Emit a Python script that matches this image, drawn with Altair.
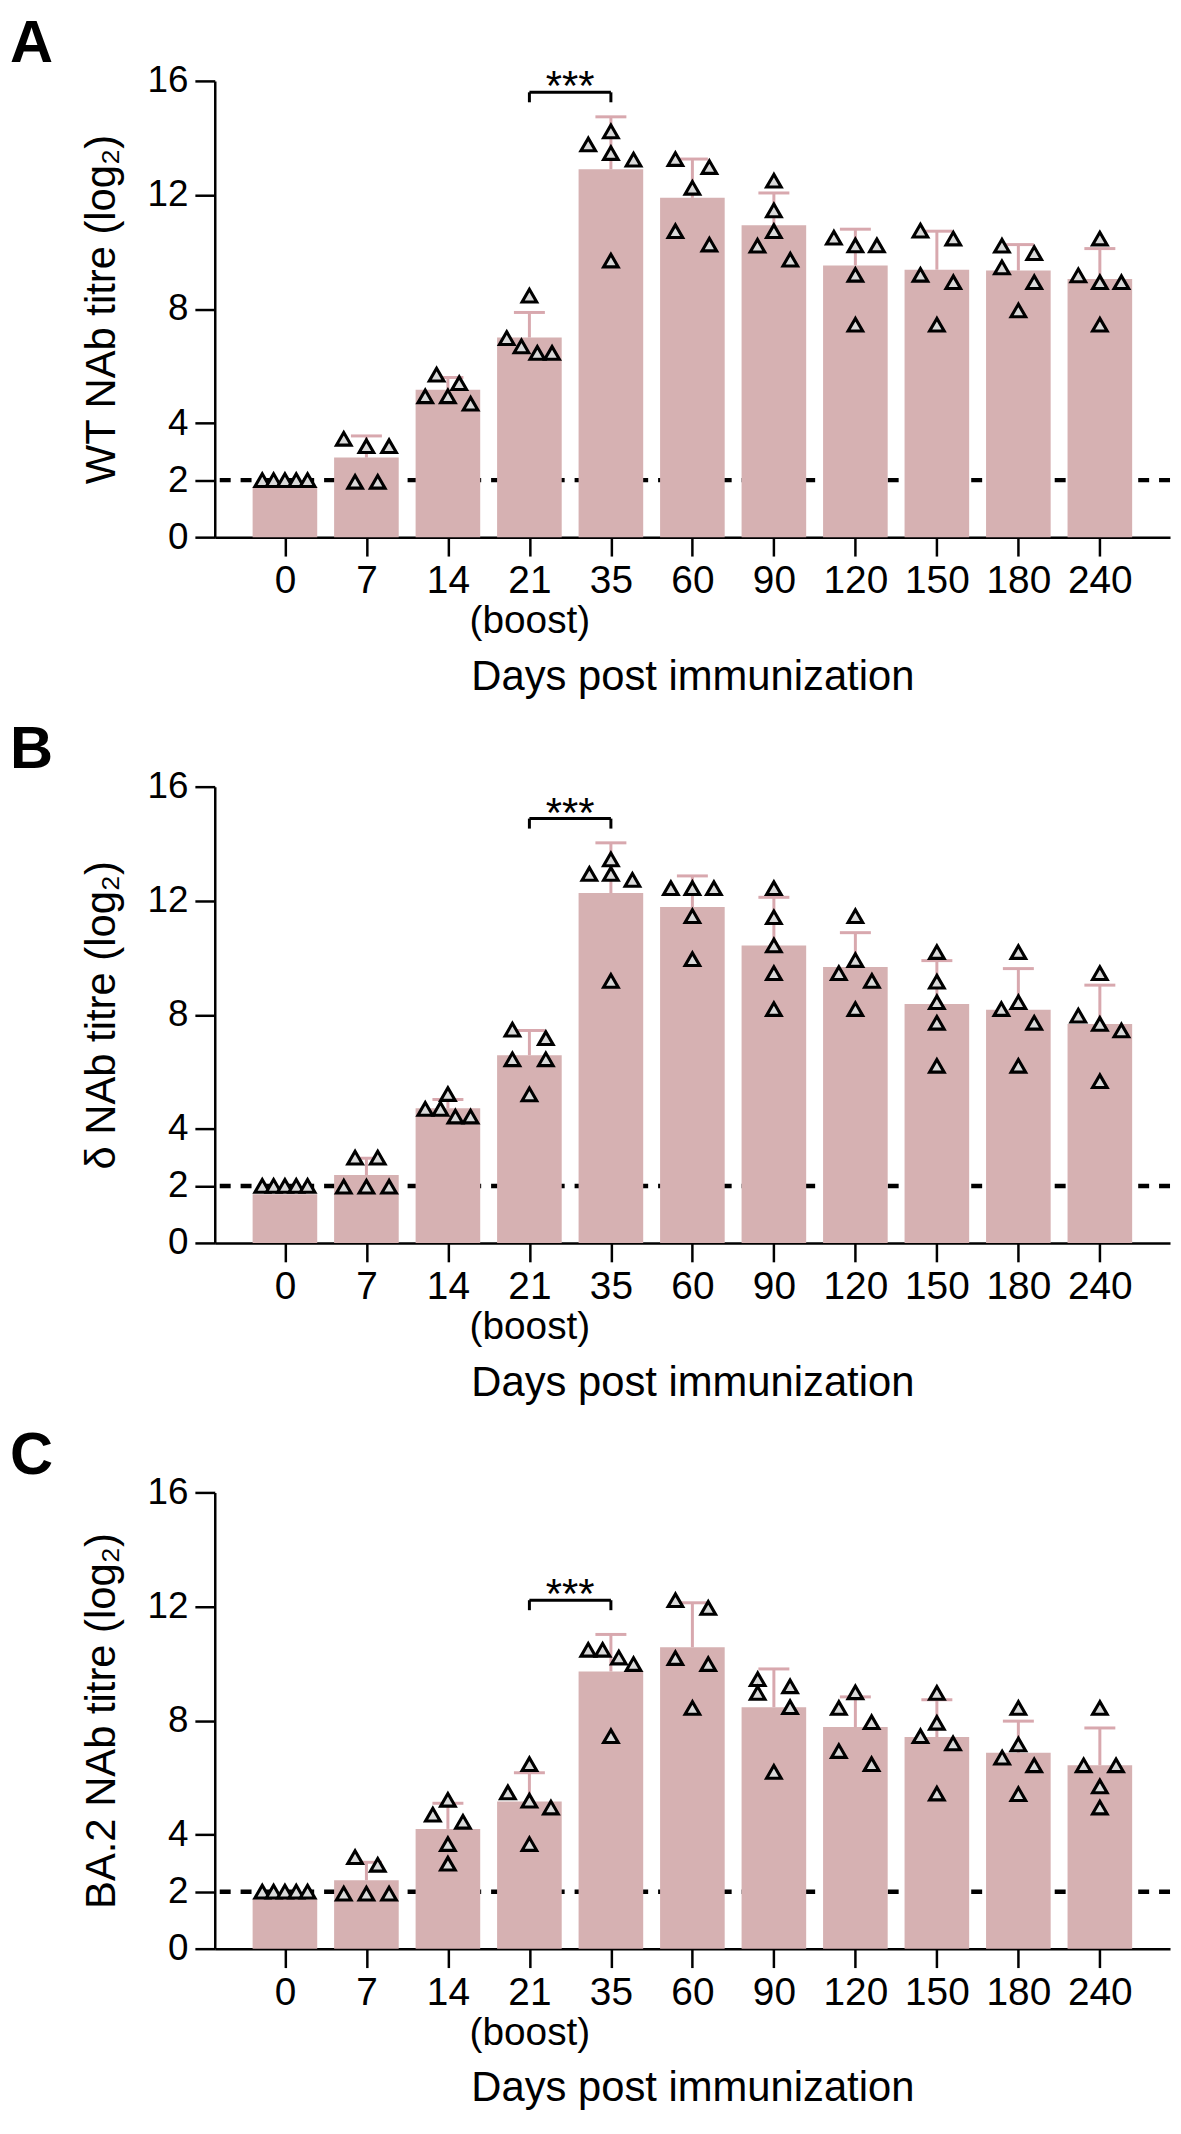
import altair as alt
import pandas as pd

# ---------------- data ----------------
days = ["0", "7", "14", "21", "35", "60", "90", "120", "150", "180", "240"]
boost_day = "21"
y_ticks = [0, 2, 4, 8, 12, 16]
letters = ["A", "B", "C"]
y_titles = ["WT NAb titre (log\u2082)", "\u03b4 NAb titre (log\u2082)", "BA.2 NAb titre (log\u2082)"]
limit_line = 2
sig_text = "***"
sig_pair = ["21", "35"]

# panel A (WT)
bars_A = [1.77, 2.79, 5.17, 7.0, 12.9, 11.9, 10.94, 9.53, 9.38, 9.35, 9.05]
caps_A = [1.77, 3.55, 5.6, 7.88, 14.74, 13.26, 12.07, 10.8, 10.73, 10.26, 10.12]
pts_A = [
    [2, 2, 2, 2, 2],
    [3.45, 3.19, 3.19, 1.94, 1.94],
    [5.7, 5.4, 4.94, 4.94, 4.68],
    [8.47, 6.98, 6.69, 6.46, 6.46],
    [14.23, 13.77, 13.47, 13.24, 9.7],
    [13.26, 12.98, 12.25, 10.73, 10.26],
    [12.5, 11.46, 10.73, 10.22, 9.73],
    [10.5, 10.23, 10.23, 9.2, 7.45],
    [10.75, 10.47, 9.2, 8.94, 7.45],
    [10.22, 9.96, 9.46, 8.94, 7.95],
    [10.47, 9.18, 8.94, 8.94, 7.45],
]
jit_A = [
    [-2, -1, 0, 1, 2],
    [-2, 0, 2, -1, 1],
    [-1, 1, -2, 0, 2],
    [0, -2, -0.7, 0.7, 2],
    [0, -2, 0, 2, 0],
    [-1.5, 1.5, 0, -1.5, 1.5],
    [0, 0, 0, -1.45, 1.45],
    [-1.9, 0, 1.9, 0, 0],
    [-1.45, 1.45, -1.45, 1.45, 0],
    [-1.45, 1.4, -1.45, 1.4, 0],
    [0, -1.9, 0, 1.9, 0],
]
bracket_A = 15.6

# panel B (delta)
bars_B = [1.71, 2.38, 4.72, 6.58, 12.27, 11.78, 10.43, 9.68, 8.38, 8.18, 7.68]
caps_B = [1.71, 2.97, 5.03, 7.45, 14.03, 12.87, 12.12, 10.88, 9.9, 9.62, 9.04]
pts_B = [
    [2, 2, 2, 2, 2],
    [2.99, 2.99, 1.97, 1.97, 1.97],
    [5.22, 4.70, 4.70, 4.43, 4.43],
    [7.48, 7.18, 6.44, 6.44, 5.21],
    [13.45, 12.94, 12.94, 12.73, 9.19],
    [12.44, 12.44, 12.44, 11.46, 9.95],
    [12.44, 11.42, 10.43, 9.46, 8.2],
    [11.46, 9.92, 9.46, 9.19, 8.2],
    [10.2, 9.16, 8.44, 7.72, 6.21],
    [10.2, 8.44, 8.2, 7.72, 6.21],
    [9.46, 7.97, 7.68, 7.45, 5.67],
]
jit_B = [
    [-2, -1, 0, 1, 2],
    [-1, 1, -2, 0, 2],
    [0, -2, -0.66, 0.66, 2],
    [-1.5, 1.45, -1.5, 1.45, 0],
    [0, -1.9, 0, 1.9, 0],
    [-1.9, 0, 1.9, 0, 0],
    [0, 0, 0, 0, 0],
    [0, 0, -1.46, 1.46, 0],
    [0, 0, 0, 0, 0],
    [0, 0, -1.5, 1.4, 0],
    [0, -1.9, 0, 1.9, 0],
]
bracket_B = 14.88

# panel C (BA.2)
bars_C = [1.76, 2.4, 4.2, 5.16, 9.72, 10.57, 8.47, 7.77, 7.42, 6.87, 6.43]
caps_C = [1.76, 3.03, 5.1, 6.17, 11.02, 12.13, 9.81, 8.83, 8.73, 7.98, 7.74]
pts_C = [
    [2, 2, 2, 2, 2],
    [3.21, 2.94, 1.93, 1.93, 1.93],
    [5.22, 4.7, 4.45, 3.67, 2.98],
    [6.47, 5.48, 5.19, 4.95, 3.67],
    [10.48, 10.48, 10.21, 9.98, 7.45],
    [12.22, 11.95, 10.19, 9.98, 8.44],
    [9.45, 9.2, 8.97, 8.47, 6.2],
    [8.99, 8.44, 7.94, 6.93, 6.47],
    [8.97, 7.92, 7.45, 7.2, 5.44],
    [8.44, 7.16, 6.7, 6.43, 5.42],
    [8.44, 6.43, 6.43, 5.69, 4.95],
]
jit_C = [
    [-2, -1, 0, 1, 2],
    [-1, 1, -2, 0, 2],
    [0, -1.33, 1.33, 0, 0],
    [0, -1.9, 0, 1.9, 0],
    [-2, -0.73, 0.7, 2, 0],
    [-1.5, 1.4, -1.5, 1.4, 0],
    [-1.43, 1.43, -1.43, 1.43, 0],
    [0, -1.46, 1.43, -1.46, 1.43],
    [0, 0, -1.45, 1.43, 0],
    [0, 0, -1.43, 1.4, 0],
    [0, -1.43, 1.43, 0, 0],
]
bracket_C = 12.22

# ---------------- styling ----------------
FONT = "Liberation Sans"
BAR = "#D6B1B2"
ERR = "#D8A8AE"
W, H = 961, 459
SLOT = 0.139      # horizontal spacing of scatter slots (index units)
CAP = 0.19        # half width of error-bar caps (index units)

idx = list(range(len(days)))
arr = "[" + ",".join("'%s'" % d for d in days) + "]"
bi = days.index(boost_day)
label_expr = "datum.value == %d ? ['%s', '(boost)'] : %s[datum.value]" % (bi, boost_day, arr)

xscale = alt.Scale(domain=[-0.8, 10.8], nice=False, zero=False)
yscale = alt.Scale(domain=[0, 16], nice=False)


def panel(letter, ytitle, bars, caps, pts, jit, bracket):
    bar_df = pd.DataFrame({"i": idx, "mean": bars, "top": caps})
    bar_df["cl"] = bar_df["i"] - CAP
    bar_df["cr"] = bar_df["i"] + CAP
    err_df = bar_df[bar_df["top"] > bar_df["mean"]]
    rows = []
    for i, (vals, sl) in enumerate(zip(pts, jit)):
        for v, s in zip(vals, sl):
            rows.append({"xp": i + s * SLOT, "v": v})
    pt_df = pd.DataFrame(rows)
    a, b = days.index(sig_pair[0]), days.index(sig_pair[1])
    br_df = pd.DataFrame({"x": [a], "x2": [b], "y": [bracket], "yl": [bracket - 0.35],
                          "xm": [(a + b) / 2], "t": [sig_text]})
    legs_df = pd.DataFrame({"x": [a, b], "y": [bracket, bracket], "yl": [bracket - 0.35] * 2})

    xaxis = alt.Axis(values=idx, labelExpr=label_expr, title="Days post immunization",
                     labelFontSize=39, labelFont=FONT, labelColor="black", labelPadding=6,
                     labelLineHeight=40, labelAngle=0, labelOverlap=False, labelFlush=False,
                     tickSize=19, tickWidth=2.5, tickColor="black",
                     domainColor="black", domainWidth=2.5, grid=False,
                     titleFont=FONT, titleFontSize=42, titleFontWeight="normal",
                     titleColor="black", titlePadding=16)
    yaxis = alt.Axis(values=y_ticks, title=ytitle,
                     labelFontSize=37, labelFont=FONT, labelColor="black", labelPadding=7,
                     tickSize=20, tickWidth=2.5, tickColor="black",
                     domainColor="black", domainWidth=2.5, grid=False, labelFlush=False,
                     titleFont=FONT, titleFontSize=42, titleFontWeight="normal",
                     titleColor="black", titlePadding=24)

    def X(f):
        return alt.X(f, scale=xscale, axis=xaxis)

    def Y(f):
        return alt.Y(f, scale=yscale, axis=yaxis)

    dashed = alt.Chart(pd.DataFrame({"lim": [limit_line]})).mark_rule(
        color="black", strokeWidth=4.5, strokeDash=[11, 10]).encode(y=Y("lim:Q"))
    barl = alt.Chart(bar_df).mark_bar(size=65, color=BAR).encode(x=X("i:Q"), y=Y("mean:Q"))
    errl = alt.Chart(err_df).mark_rule(color=ERR, strokeWidth=3).encode(
        x=X("i:Q"), y=Y("mean:Q"), y2="top:Q")
    capl = alt.Chart(err_df).mark_rule(color=ERR, strokeWidth=3).encode(
        x=X("cl:Q"), x2="cr:Q", y=Y("top:Q"))
    ptl = alt.Chart(pt_df).mark_point(shape="triangle-up", size=215, filled=True,
                                      fill="#D9D9D9", stroke="black", strokeWidth=3.1,
                                      opacity=1, fillOpacity=1, strokeOpacity=1).encode(
        x=X("xp:Q"), y=Y("v:Q"))
    brl = alt.Chart(br_df).mark_rule(color="black", strokeWidth=3).encode(
        x=X("x:Q"), x2="x2:Q", y=Y("y:Q"))
    legl = alt.Chart(legs_df).mark_rule(color="black", strokeWidth=3).encode(
        x=X("x:Q"), y=Y("y:Q"), y2="yl:Q")
    stars = alt.Chart(br_df).mark_text(font=FONT, fontSize=42, color="black",
                                       baseline="alphabetic", dy=8).encode(
        x=X("xm:Q"), y=Y("y:Q"), text="t:N")
    let = alt.Chart(pd.DataFrame({"t": [letter]})).mark_text(
        font=FONT, fontSize=60, fontWeight="bold", color="black",
        align="left", baseline="alphabetic").encode(
        x=alt.value(-206), y=alt.value(-19), text="t:N")
    return alt.layer(dashed, barl, errl, capl, ptl, brl, legl, stars, let).properties(
        width=W, height=H)


pA = panel(letters[0], y_titles[0], bars_A, caps_A, pts_A, jit_A, bracket_A)
pB = panel(letters[1], y_titles[1], bars_B, caps_B, pts_B, jit_B, bracket_B)
pC = panel(letters[2], y_titles[2], bars_C, caps_C, pts_C, jit_C, bracket_C)

chart = alt.vconcat(pA, pB, pC, spacing=251, bounds="flush").properties(
    padding={"left": 2, "top": 0, "right": 0, "bottom": 5}
).configure(font=FONT, background="white").configure_view(stroke=None)

chart.save("out.html", embed_options={"renderer": "svg", "actions": False})
